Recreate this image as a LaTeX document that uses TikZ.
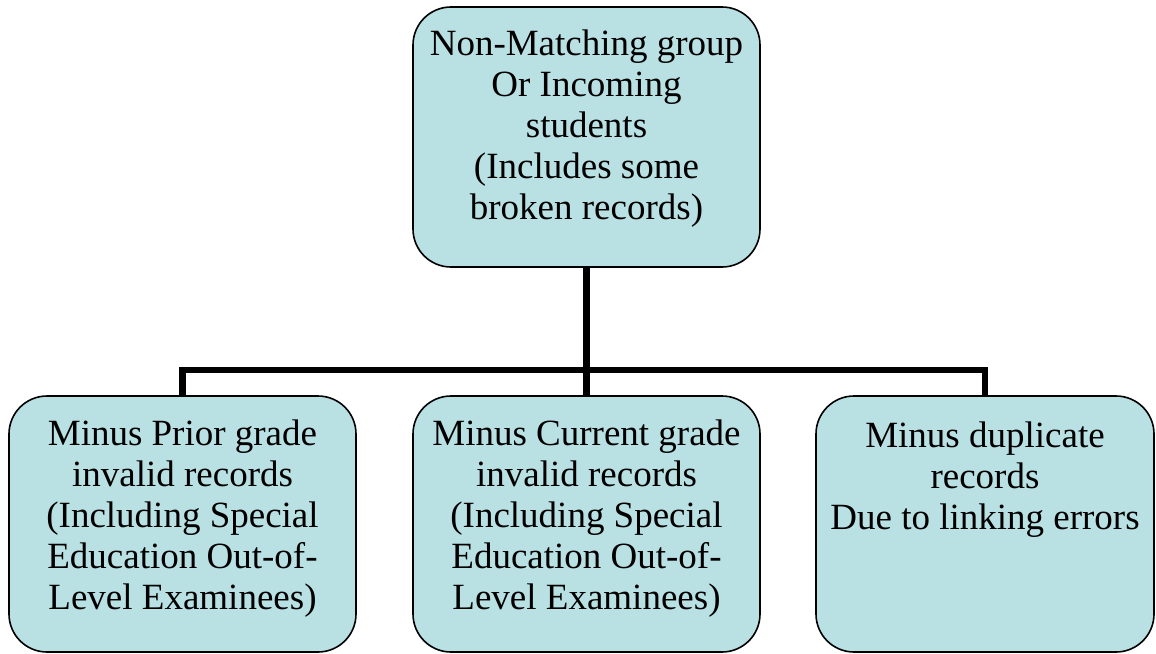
\documentclass[tikz,border=0pt]{standalone}
\usepackage{fontspec}
\setmainfont{Liberation Serif}
\definecolor{boxfill}{RGB}{185,224,227}
\begin{document}
\begin{tikzpicture}[x=1pt,y=-1pt,
  box/.style={draw=black, line width=1.6pt, fill=boxfill, rounded corners=38pt, rectangle, inner sep=0pt},
  lbl/.style={font=\fontsize{37}{41}\selectfont, align=center, inner sep=0pt, anchor=base},
  conn/.style={draw=black, line width=6.5pt}]
\useasboundingbox (0,0) rectangle (1156,653);
\node[box, minimum width=347pt, minimum height=260pt] (top) at (586.5,137) {};
\node[box, minimum width=347pt, minimum height=256pt] (left) at (182.5,524) {};
\node[box, minimum width=347pt, minimum height=256pt] (mid) at (586.5,524) {};
\node[box, minimum width=338pt, minimum height=256pt] (right) at (985,524) {};
\coordinate (j) at (586.5,370);
\draw[conn] (top.south) -- (j);
\draw[conn] (left.north) -- (left.north |- j) -- (right.north |- j) -- (right.north);
\draw[conn] (j) -- (mid.north);
\node[lbl] (ttop) at (586.5,219) {Non-Matching group\\Or Incoming\\students\\(Includes some\\broken records)};
\node[lbl] (tleft) at (182.5,609) {Minus Prior grade\\invalid records\\(Including Special\\Education Out-of-\\Level Examinees)};
\node[lbl] (tmid) at (586.5,609) {Minus Current grade\\invalid records\\(Including Special\\Education Out-of-\\Level Examinees)};
\node[lbl] (tright) at (985,529) {Minus duplicate\\records\\Due to linking errors};
\end{tikzpicture}
\end{document}
